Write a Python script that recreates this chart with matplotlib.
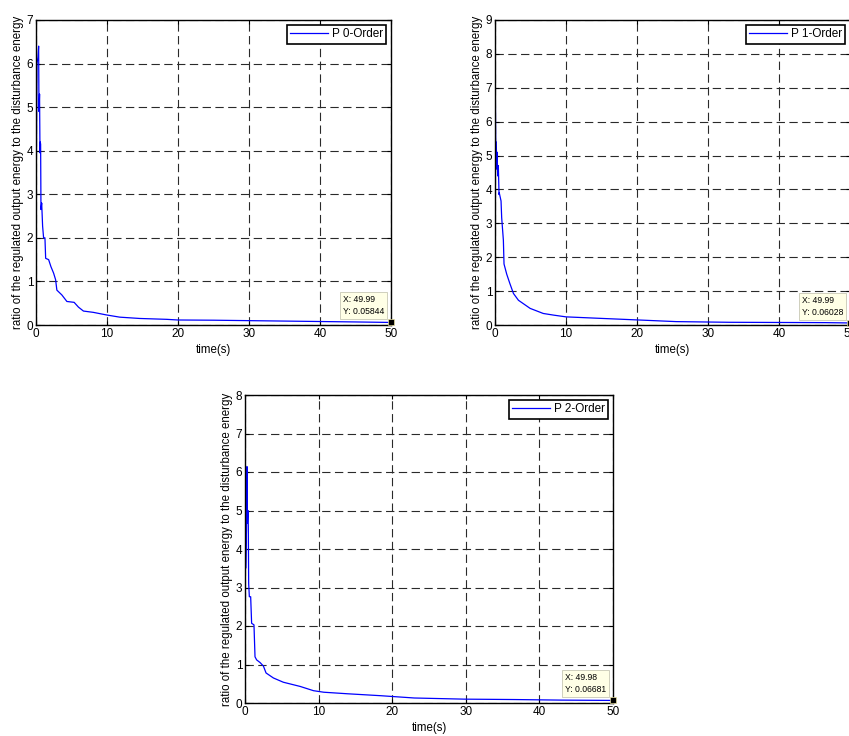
import matplotlib
matplotlib.use("Agg")
import matplotlib.pyplot as plt

plt.rcParams['font.family'] = ['Liberation Sans', 'DejaVu Sans']

# ---- data ----
t0 = [0.0, 0.05, 0.14, 0.28, 0.37, 0.42, 0.5, 0.56, 0.6, 0.65, 0.7, 0.8, 0.93, 1.07, 1.26, 1.36,
      1.78, 2.1, 2.48, 2.76, 2.94, 3.64, 4.35, 5.37, 5.98, 6.68, 8.08, 9.95, 11.8, 14.6, 18.4, 20,
      25, 30, 35, 40, 45, 49.99]
y0 = [3.6, 3.7, 6.0, 6.15, 6.4, 4.9, 5.3, 3.95, 4.2, 4.15, 2.65, 2.8, 2.27, 2.0, 2.0, 1.53,
      1.5, 1.34, 1.19, 1.04, 0.8, 0.69, 0.54, 0.52, 0.41, 0.32, 0.29, 0.23, 0.18, 0.15, 0.13, 0.115,
      0.11, 0.10, 0.09, 0.08, 0.07, 0.05844]

t1 = [0.0, 0.02, 0.1, 0.18, 0.24, 0.3, 0.38, 0.47, 0.57, 0.6, 0.85, 0.94, 1.18, 1.27, 1.65,
      2.1, 2.6, 3.3, 4.95, 6.8, 8.3, 10, 14.4, 20, 25.5, 33, 46.5, 49.99]
y1 = [8.06, 7.5, 5.4, 5.4, 4.6, 5.1, 4.4, 4.7, 3.85, 3.9, 3.66, 3.17, 2.5, 1.8, 1.5,
      1.22, 0.93, 0.73, 0.49, 0.34, 0.29, 0.24, 0.2, 0.15, 0.1, 0.08, 0.07, 0.06028]

t2 = [0.0, 0.09, 0.2, 0.27, 0.32, 0.4, 0.45, 0.5, 0.59, 0.77, 0.9, 1.22, 1.36, 1.58, 2.05,
      2.5, 2.86, 3.86, 5.2, 7.5, 9.3, 10.7, 13.9, 18.4, 23, 29.8, 36.6, 43, 49.98]
y2 = [7.26, 3.5, 4.5, 6.14, 4.67, 5.0, 4.6, 3.1, 2.76, 2.76, 2.07, 2.03, 1.2, 1.12, 1.05,
      0.96, 0.78, 0.65, 0.54, 0.43, 0.32, 0.28, 0.24, 0.19, 0.13, 0.1, 0.09, 0.075, 0.06681]

labels = ['P 0-Order', 'P 1-Order', 'P 2-Order']
ymaxs = [7, 9, 8]
tips = [('49.99', '0.05844'), ('49.99', '0.06028'), ('49.98', '0.06681')]
ylabel = 'ratio of the regulated output energy to the disturbance energy'
xlabel = 'time(s)'

W, H = 849, 736
fig = plt.figure(figsize=(W / 100, H / 100), dpi=100)

def px_axes(l, t, r, b):
    return fig.add_axes([l / W, 1 - b / H, (r - l) / W, (b - t) / H])

axes = [px_axes(36, 20, 391, 325), px_axes(495, 20, 850, 325), px_axes(245, 395, 613, 703)]
series = [(t0, y0), (t1, y1), (t2, y2)]

for ax, (t, y), lab, ym, tip in zip(axes, series, labels, ymaxs, tips):
    ax.plot(t, y, color='#0000ff', lw=0.9, label=lab)
    ax.set_xlim(0, 50)
    ax.set_ylim(0, ym)
    ax.set_xticks(range(0, 51, 10))
    ax.set_yticks(range(0, ym + 1))
    ax.grid(True, color='#2a2a2a', linestyle=(0, (7.5, 4)), linewidth=0.8)
    ax.tick_params(direction='in', top=True, right=True, length=3, width=0.8,
                   labelsize=8.5, pad=2)
    for s in ax.spines.values():
        s.set_linewidth(1.0)
        s.set_color('black')
    ax.set_xlabel(xlabel, fontsize=8.3, labelpad=3)
    ax.set_ylabel(ylabel, fontsize=8.3, labelpad=2)
    leg = ax.legend(loc='upper right', fontsize=8.5, fancybox=False, framealpha=1,
                    edgecolor='black', handlelength=3.2, borderpad=0.3,
                    borderaxespad=0.4, handletextpad=0.3)
    leg.get_frame().set_linewidth(1.2)
    # data tip
    ax.plot([t[-1]], [y[-1]], marker='s', ms=5, color='black', mec='#e8e0a0', mew=0.5,
            clip_on=False, zorder=5)
    ax.annotate('X: %s\nY: %s' % tip, xy=(t[-1], y[-1]), xytext=(-7, 6),
                textcoords='offset pixels', ha='right', va='bottom', fontsize=6.2,
                multialignment='left', linespacing=1.45,
                bbox=dict(boxstyle='square,pad=0.35', fc='#ffffe6', ec='#c8c8b4', lw=0.6))

fig.savefig('out.png', dpi=100)
